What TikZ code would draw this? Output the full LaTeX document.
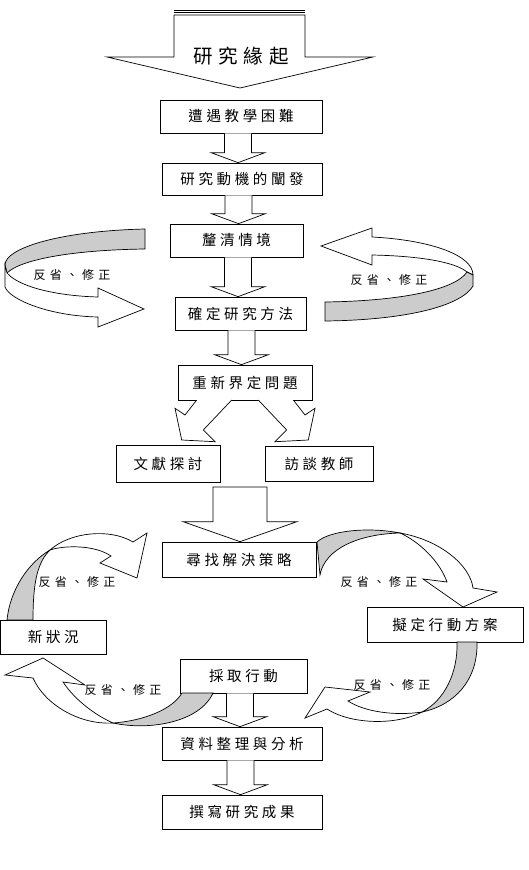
\documentclass[tikz,border=0pt]{standalone}
\usepackage{fontspec}
\newfontfamily\cjkbox[LetterSpace=25]{Noto Sans CJK TC}
\newfontfamily\cjktitle[LetterSpace=30]{Noto Sans CJK TC}
\newfontfamily\cjklab[LetterSpace=35]{Noto Sans CJK TC}
\usetikzlibrary{calc}
\definecolor{bandgrey}{gray}{0.80}
\tikzset{
  ln/.style={draw=black,line width=0.7pt,line join=miter},
  box/.style={ln,fill=white,inner sep=0pt,font=\cjkbox\fontsize{14.5}{14.5}\selectfont},
  blk/.style={ln,fill=white},
  back/.style={ln,fill=bandgrey},
  front/.style={ln,fill=white},
  lab/.style={inner sep=0pt,font=\cjklab\fontsize{12}{12}\selectfont},
}
\newcommand\varr[3]{%
  \draw[blk] let \p1=(#2.south), \p2=(#3.north) in
    (#1pt-13.5pt,\y1) -- (#1pt-13.5pt,\y2+10pt) -- (#1pt-27pt,\y2+10pt) --
    (#1pt,\y2) -- (#1pt+27pt,\y2+10pt) -- (#1pt+13.5pt,\y2+10pt) -- (#1pt+13.5pt,\y1);}
\begin{document}
\begin{tikzpicture}[x=1pt,y=-1pt]
\useasboundingbox (0,0) rectangle (528,870);
\fill[white] (0,0) rectangle (528,870);

% top arrow
\draw[ln] (174,10) -- (305,10);
\draw[ln] (174,12.5) -- (305,12.5);
\draw[blk] (174,15) -- (174,57) -- (107,57) -- (240,88) -- (373,57) -- (305,57) -- (305,15) -- cycle;
\node[inner sep=0pt,font=\cjktitle\fontsize{19.5}{19.5}\selectfont] (t0) at (241,56) {研究緣起};

% boxes
\node[box,minimum width=162,minimum height=33] (b1) at (241,116.5) {遭遇教學困難};
\node[box,minimum width=160,minimum height=32] (b2) at (242,179) {研究動機的闡發};
\node[box,minimum width=133,minimum height=33] (b3) at (236.5,240.5) {釐清情境};
\node[box,minimum width=131,minimum height=33] (b4) at (240.5,313.5) {確定研究方法};
\node[box,minimum width=134,minimum height=35] (b5) at (245,382.5) {重新界定問題};
\node[box,minimum width=104,minimum height=37] (b6) at (168,463.5) {文獻探討};
\node[box,minimum width=108,minimum height=35] (b7) at (319,463.5) {訪談教師};
\node[box,minimum width=154,minimum height=35] (b8) at (239,559.5) {尋找解決策略};
\node[box,minimum width=156,minimum height=35] (b9) at (445,624.5) {擬定行動方案};
\node[box,minimum width=105.5,minimum height=34] (b10) at (53.25,637) {新狀況};
\node[box,minimum width=127,minimum height=34] (b11) at (243.5,676) {採取行動};
\node[box,minimum width=160,minimum height=33] (b12) at (242,743.5) {資料整理與分析};
\node[box,minimum width=160,minimum height=34] (b13) at (242,812) {撰寫研究成果};

% vertical block arrows
\varr{238}{b1}{b2}
\varr{238.5}{b2}{b3}
\varr{238}{b3}{b4}
\varr{241.5}{b4}{b5}
\varr{240}{b11}{b12}
\varr{240.5}{b12}{b13}
% big arrow into b8
\draw[blk] let \p2=(b8.north) in
  (213pt,-487pt) -- (213pt,\y2+20pt) -- (183pt,\y2+20pt) -- (240pt,\y2) --
  (297pt,\y2+20pt) -- (267pt,\y2+20pt) -- (267pt,-487pt) -- cycle;

% diagonal arrows from b5
\draw[blk] (196.7,400) -- (185,415) -- (175,408.3) -- (181.7,440) -- (215,441.7) -- (203.3,430) -- (231.7,400);
\draw[blk] (293.3,400) -- (305,415) -- (315,408.3) -- (308.3,440) -- (275,441.7) -- (286.7,430) -- (258.3,400);

% left ring
\draw[back] (145,229) .. controls (60,231) and (5,248) .. (5,265) -- (7,273)
  .. controls (20,260) and (70,250) .. (145,249) -- cycle;
\draw[front] (5,265) -- (5,287) .. controls (10,300) and (50,316) .. (98,317) -- (98,327) -- (144,309)
  -- (98,288) -- (98,297) .. controls (60,296) and (20,288) .. (7,273) -- cycle;
\node[lab] (l1) at (72,275) {反省、修正};

% right ring
\draw[front] (321,246) -- (372,228) -- (372,237) .. controls (430,240) and (473,255) .. (473,275)
  -- (467,272) .. controls (455,262) and (420,256) .. (372,255) -- (372,265) -- cycle;
\draw[back] (325,302) .. controls (400,301) and (455,290) .. (467,272) -- (473,275) -- (473,286)
  .. controls (462,305) and (410,320) .. (325,321) -- cycle;
\node[lab] (l2) at (389,280) {反省、修正};

% upper-right arc: b8 -> b9
\draw[back] (317,542) .. controls (330,530) and (370,527) .. (400,533)
  .. controls (360,534) and (325,548) .. (320,575) -- cycle;
\draw[front] (400,533) .. controls (440,540) and (470,565) .. (473,588) -- (497,592) -- (463,607)
  -- (423,579) -- (447,582) .. controls (440,562) and (420,542) .. (400,533) -- cycle;
\node[lab] (l3) at (379,582) {反省、修正};

% lower-right arc: b9 -> b11
\draw[back] (457,642) .. controls (458,672) and (445,700) .. (422,712)
  .. controls (455,705) and (478,680) .. (477,642) -- cycle;
\draw[front] (422,712) .. controls (395,726) and (350,724) .. (327,709) -- (305,718) -- (325,687)
  -- (370,692) -- (348,701) .. controls (365,712) and (395,716) .. (422,712) -- cycle;
\node[lab] (l4) at (392,685) {反省、修正};

% lower-left arc: b11 -> b10
\draw[back] (182,693) .. controls (172,710) and (142,721) .. (113,723)
  .. controls (150,731) and (200,722) .. (213,693) -- cycle;
\draw[front] (113,723) .. controls (80,725) and (45,705) .. (33,678) -- (5,675) -- (43,658)
  -- (85,685) -- (63,682) .. controls (75,700) and (95,715) .. (113,723) -- cycle;
\node[lab] (l5) at (123,690) {反省、修正};

% upper-left arc: b10 -> b8
\draw[back] (7,620) .. controls (10,590) and (28,563) .. (50,550)
  .. controls (38,562) and (33,580) .. (33,620) -- cycle;
\draw[front] (50,550) .. controls (70,532) and (110,528) .. (133,542) -- (147,533) -- (137,578)
  -- (100,563) -- (111,556) .. controls (95,545) and (65,545) .. (50,550) -- cycle;
\node[lab] (l6) at (77,582) {反省、修正};
\end{tikzpicture}
\end{document}
